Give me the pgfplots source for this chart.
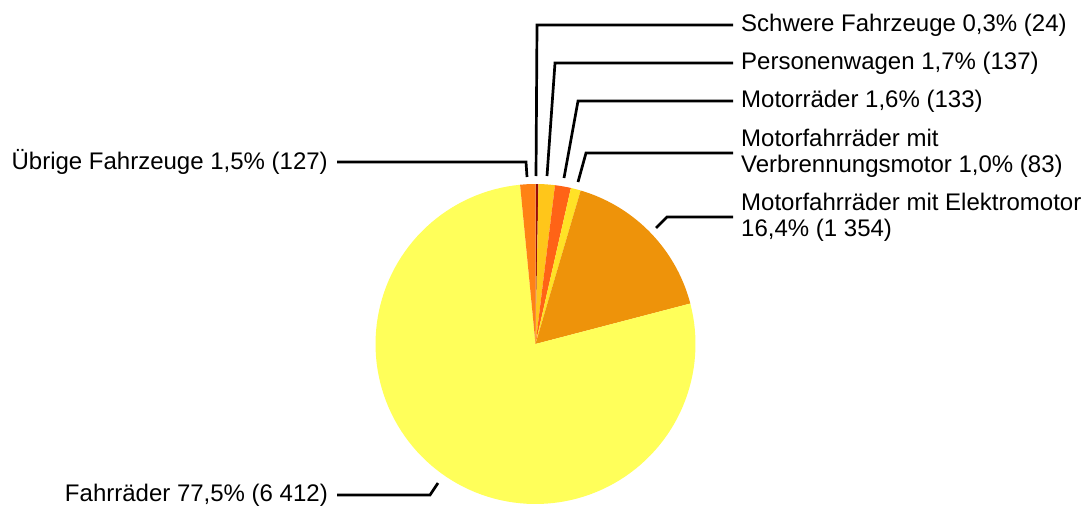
\documentclass[border=0pt]{standalone}
\usepackage{fontspec}
\setmainfont{Liberation Sans}
\usepackage{pgfplots}
\usepackage{pgfplotstable}
\pgfplotsset{compat=1.18}

% slice colours, clockwise from the top
\definecolor{pc0}{RGB}{150,10,10}   % Schwere Fahrzeuge
\definecolor{pc1}{RGB}{255,198,26}  % Personenwagen
\definecolor{pc2}{RGB}{255,99,22}   % Motorräder
\definecolor{pc3}{RGB}{255,226,38}  % Motorfahrräder Verbrennungsmotor
\definecolor{pc4}{RGB}{238,147,10}  % Motorfahrräder Elektromotor
\definecolor{pc5}{RGB}{255,255,90}  % Fahrräder
\definecolor{pc6}{RGB}{255,130,20}  % Übrige Fahrzeuge

\pgfplotstableread{
cat count
0 24
1 137
2 133
3 83
4 1354
5 6412
6 127
}\piedata

\begin{document}
\begin{tikzpicture}[lbl/.style={inner sep=0pt, align=left, font=\fontsize{24}{26}\selectfont}]
% cumulative angles from the counts
\gdef\total{0}
\foreach \i in {0,...,6}{
  \pgfplotstablegetelem{\i}{count}\of\piedata
  \pgfmathsetmacro\tmp{\total+\pgfplotsretval}
  \xdef\total{\tmp}
}
\gdef\cum{0}
\foreach \i in {0,...,6}{
  \pgfplotstablegetelem{\i}{count}\of\piedata
  \pgfmathsetmacro\hiang{90-360*(\cum/\total)}
  \pgfmathsetmacro\tmp{\cum+\pgfplotsretval}
  \xdef\cum{\tmp}
  \pgfmathsetmacro\loang{90-360*(\cum/\total)}
  \expandafter\xdef\csname lo\i\endcsname{\loang}
  \expandafter\xdef\csname hi\i\endcsname{\hiang}
}
\begin{axis}[
  x=1pt, y=1pt,
  xmin=0, xmax=1086, ymin=0, ymax=506,
  y dir=reverse,
  hide axis, clip=false,
]
\pgfplotsinvokeforeach{0,...,6}{
  \addplot[draw=none, fill=pc#1, samples=120,
    domain=\csname lo#1\endcsname:\csname hi#1\endcsname]
    ({535.5+160*cos(x)},{344-160*sin(x)}) -- (axis cs:535.5,344) -- cycle;
}

% leader lines
\addplot[black, line width=2.7pt] coordinates {(536,176) (537,25) (733,25)};
\addplot[black, line width=2.7pt] coordinates {(547,176) (555,63) (733,63)};
\addplot[black, line width=2.7pt] coordinates {(564,178) (578,101) (733,101)};
\addplot[black, line width=2.7pt] coordinates {(578,182) (586,153) (733,153)};
\addplot[black, line width=2.7pt] coordinates {(656,228) (667,217) (733,217)};
\addplot[black, line width=2.7pt] coordinates {(438,483) (430,495) (337,495)};
\addplot[black, line width=2.7pt] coordinates {(527,177) (526,162) (337,162)};

\node[lbl, anchor=west] at (axis cs:741,25) {Schwere Fahrzeuge 0,3\% (24)};
\node[lbl, anchor=west] at (axis cs:741,63) {Personenwagen 1,7\% (137)};
\node[lbl, anchor=west] at (axis cs:741,101) {Motorräder 1,6\% (133)};
\node[lbl, anchor=west] at (axis cs:741,153) {Motorfahrräder mit\\Verbrennungsmotor 1,0\% (83)};
\node[lbl, anchor=west] at (axis cs:741,217) {Motorfahrräder mit Elektromotor\\16,4\% (1 354)};
\node[lbl, anchor=east] at (axis cs:328,495) {Fahrräder 77,5\% (6 412)};
\node[lbl, anchor=east] at (axis cs:328,162) {Übrige Fahrzeuge 1,5\% (127)};
\end{axis}
\pgfresetboundingbox
\path (current axis.south west) rectangle (current axis.north east);
\end{tikzpicture}
\end{document}
